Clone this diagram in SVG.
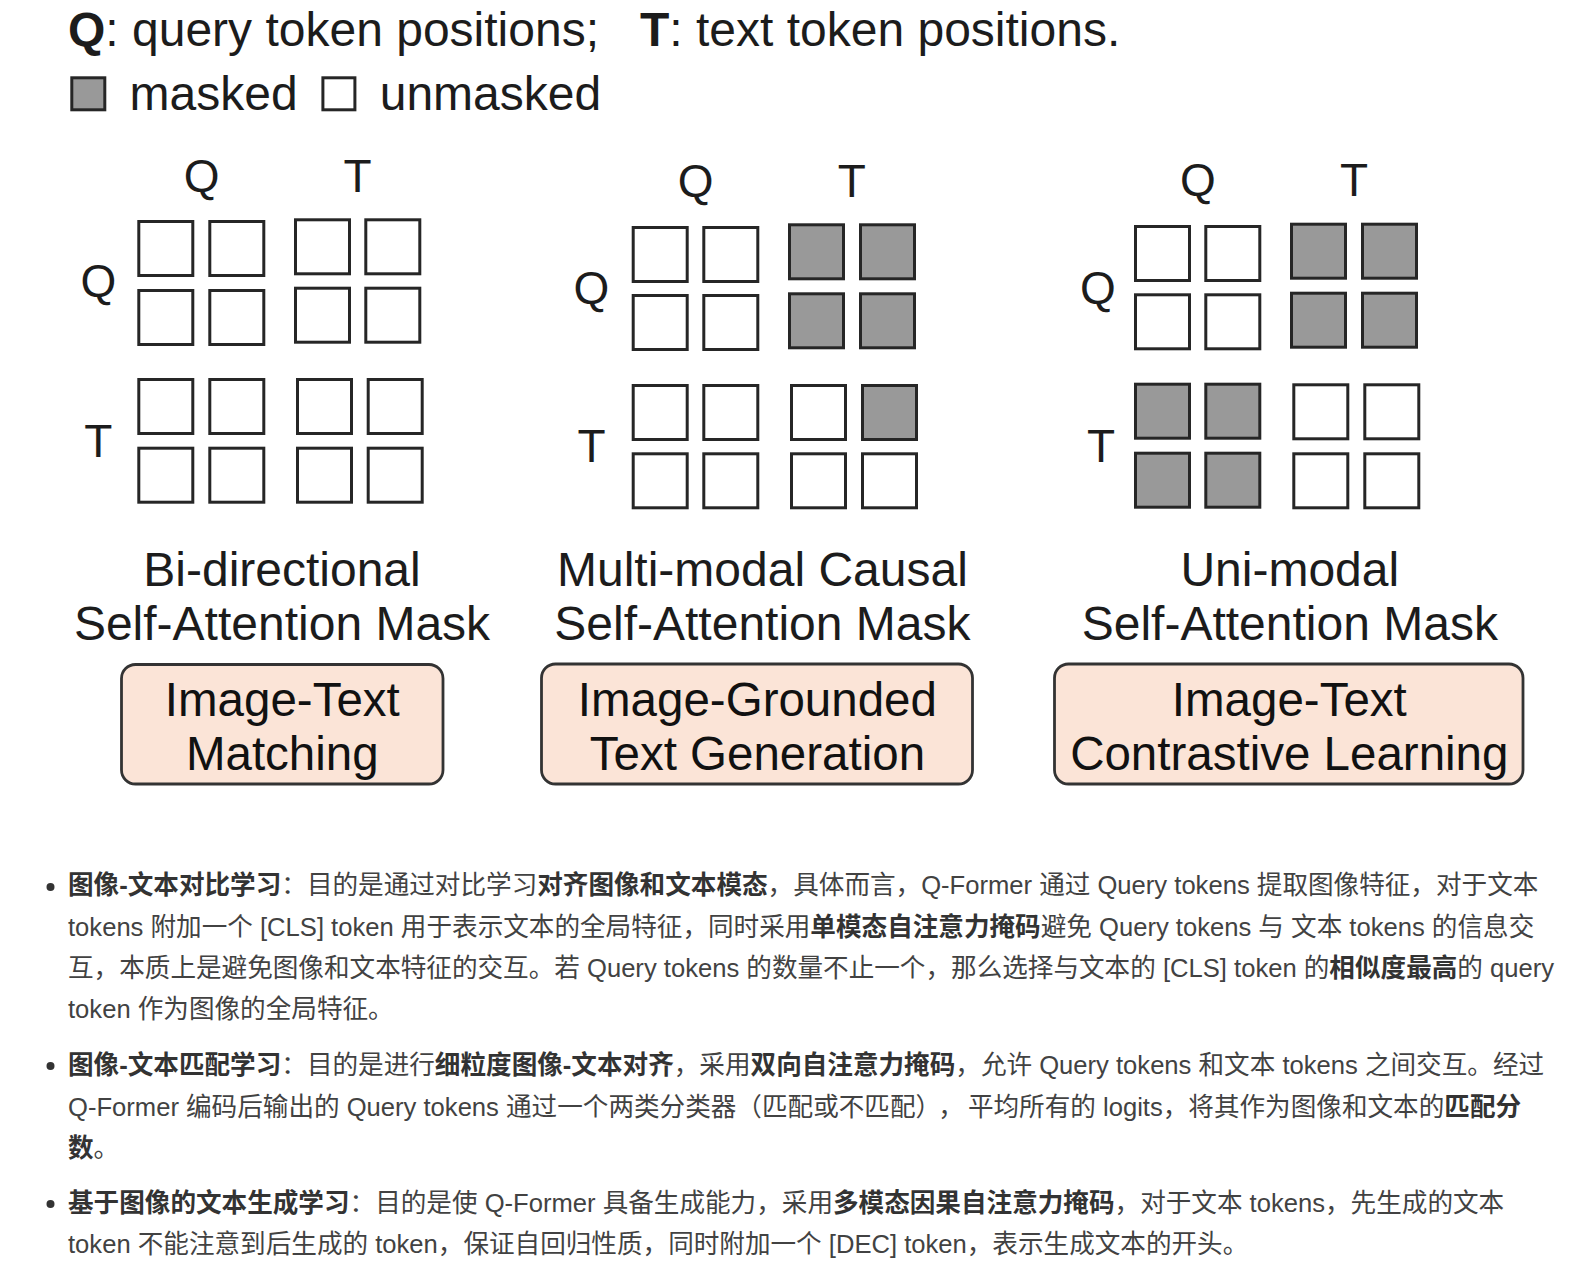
<svg xmlns="http://www.w3.org/2000/svg" width="1575" height="1278" viewBox="0 0 1575 1278">
<style>
.h{font-family:"Liberation Sans",Arial,sans-serif;font-size:48px;fill:#1c1c1c}
.bold{font-weight:bold}
.lbl{font-family:"Liberation Sans",Arial,sans-serif;font-size:46px;fill:#1c1c1c;text-anchor:middle}
.ttl{font-family:"Liberation Sans",Arial,sans-serif;font-size:48px;fill:#1c1c1c;text-anchor:middle}
.bt{font-family:"Liberation Sans",Arial,sans-serif;font-size:47.5px;fill:#111;text-anchor:middle}
.c{fill:#fff;stroke:#262626;stroke-width:3}
.m{fill:#999;stroke:#262626;stroke-width:3}
.box{fill:#fbe4d7;stroke:#333;stroke-width:2.8}
.p{font-family:"Liberation Sans","Noto Sans CJK SC",sans-serif;font-size:25.6px;fill:#424242}
.pb{font-weight:bold;fill:#333}
.dot{fill:#333}
</style>
<rect x="0" y="0" width="1575" height="1278" fill="#fff"/>

<g id="legend">
<text class="h" x="68" y="46"><tspan class="bold">Q</tspan>: query token positions;</text>
<text class="h" x="640" y="46"><tspan class="bold">T</tspan>: text token positions.</text>
<rect class="m" x="71.8" y="77.8" width="33" height="32"/>
<text class="h" x="129.6" y="109.5">masked</text>
<rect class="c" x="322.9" y="77.8" width="32" height="32"/>
<text class="h" x="379.7" y="109.5">unmasked</text>
</g>

<g id="panel-bidirectional">
<text class="lbl" x="201.7" y="192">Q</text>
<text class="lbl" x="357.5" y="192">T</text>
<text class="lbl" x="98.3" y="297">Q</text>
<text class="lbl" x="98.3" y="457">T</text>
<rect class="c" x="138.8" y="221.5" width="54" height="54"/>
<rect class="c" x="209.8" y="221.5" width="54" height="54"/>
<rect class="c" x="138.8" y="290.5" width="54" height="54"/>
<rect class="c" x="209.8" y="290.5" width="54" height="54"/>
<rect class="c" x="295.5" y="219.8" width="54" height="54"/>
<rect class="c" x="365.8" y="219.8" width="54" height="54"/>
<rect class="c" x="295.5" y="288.2" width="54" height="54"/>
<rect class="c" x="365.8" y="288.2" width="54" height="54"/>
<rect class="c" x="138.8" y="379.5" width="54" height="54"/>
<rect class="c" x="209.8" y="379.5" width="54" height="54"/>
<rect class="c" x="138.8" y="448.2" width="54" height="54"/>
<rect class="c" x="209.8" y="448.2" width="54" height="54"/>
<rect class="c" x="297.5" y="379.5" width="54" height="54"/>
<rect class="c" x="368.2" y="379.5" width="54" height="54"/>
<rect class="c" x="297.5" y="448.2" width="54" height="54"/>
<rect class="c" x="368.2" y="448.2" width="54" height="54"/>
<text class="ttl" x="282" y="586">Bi-directional</text>
<text class="ttl" x="282" y="640">Self-Attention Mask</text>
</g>

<g id="panel-causal">
<text class="lbl" x="695.7" y="197">Q</text>
<text class="lbl" x="851.7" y="197">T</text>
<text class="lbl" x="591.5" y="304">Q</text>
<text class="lbl" x="591.5" y="462">T</text>
<rect class="c" x="633.2" y="227.5" width="54" height="54"/>
<rect class="c" x="703.8" y="227.5" width="54" height="54"/>
<rect class="c" x="633.2" y="295.5" width="54" height="54"/>
<rect class="c" x="703.8" y="295.5" width="54" height="54"/>
<rect class="m" x="789.5" y="224.8" width="54" height="54"/>
<rect class="m" x="860.5" y="224.8" width="54" height="54"/>
<rect class="m" x="789.5" y="293.8" width="54" height="54"/>
<rect class="m" x="860.5" y="293.8" width="54" height="54"/>
<rect class="c" x="633.2" y="385.5" width="54" height="54"/>
<rect class="c" x="703.8" y="385.5" width="54" height="54"/>
<rect class="c" x="633.2" y="453.8" width="54" height="54"/>
<rect class="c" x="703.8" y="453.8" width="54" height="54"/>
<rect class="c" x="791.5" y="385.5" width="54" height="54"/>
<rect class="m" x="862.5" y="385.5" width="54" height="54"/>
<rect class="c" x="791.5" y="453.8" width="54" height="54"/>
<rect class="c" x="862.5" y="453.8" width="54" height="54"/>
<text class="ttl" x="762.4" y="586">Multi-modal Causal</text>
<text class="ttl" x="762.4" y="640">Self-Attention Mask</text>
</g>

<g id="panel-unimodal">
<text class="lbl" x="1198" y="196">Q</text>
<text class="lbl" x="1354" y="196">T</text>
<text class="lbl" x="1098" y="304">Q</text>
<text class="lbl" x="1101" y="462">T</text>
<rect class="c" x="1135.5" y="226.5" width="54" height="54"/>
<rect class="c" x="1205.8" y="226.5" width="54" height="54"/>
<rect class="c" x="1135.5" y="294.8" width="54" height="54"/>
<rect class="c" x="1205.8" y="294.8" width="54" height="54"/>
<rect class="m" x="1291.5" y="224.2" width="54" height="54"/>
<rect class="m" x="1362.5" y="224.2" width="54" height="54"/>
<rect class="m" x="1291.5" y="293.2" width="54" height="54"/>
<rect class="m" x="1362.5" y="293.2" width="54" height="54"/>
<rect class="m" x="1135.5" y="384.2" width="54" height="54"/>
<rect class="m" x="1205.8" y="384.2" width="54" height="54"/>
<rect class="m" x="1135.5" y="453.2" width="54" height="54"/>
<rect class="m" x="1205.8" y="453.2" width="54" height="54"/>
<rect class="c" x="1293.8" y="384.8" width="54" height="54"/>
<rect class="c" x="1364.8" y="384.8" width="54" height="54"/>
<rect class="c" x="1293.8" y="453.8" width="54" height="54"/>
<rect class="c" x="1364.8" y="453.8" width="54" height="54"/>
<text class="ttl" x="1289.8" y="586">Uni-modal</text>
<text class="ttl" x="1289.8" y="640">Self-Attention Mask</text>
</g>

<g id="box-itm">
<rect class="box" x="121.5" y="664.5" width="321.5" height="119.5" rx="14"/>
<text class="bt" x="282.3" y="716">Image-Text</text>
<text class="bt" x="282.3" y="770">Matching</text>
</g>
<g id="box-itg">
<rect class="box" x="541.5" y="664" width="431" height="120" rx="14"/>
<text class="bt" x="757.4" y="716">Image-Grounded</text>
<text class="bt" x="757.4" y="770">Text Generation</text>
</g>
<g id="box-itc">
<rect class="box" x="1054.5" y="664" width="468.5" height="120" rx="14"/>
<text class="bt" x="1289.3" y="716">Image-Text</text>
<text class="bt" x="1289.3" y="770">Contrastive Learning</text>
</g>

<g id="connectors"></g>

<g id="notes">
<circle class="dot" cx="50.5" cy="887" r="4"/>
<text class="p" x="68" y="894"><tspan class="pb">图像-文本对比学习</tspan>：目的是通过对比学习<tspan class="pb">对齐图像和文本模态</tspan>，具体而言，Q-Former 通过 Query tokens 提取图像特征，对于文本</text>
<text class="p" x="68" y="936">tokens 附加一个 [CLS] token 用于表示文本的全局特征，同时采用<tspan class="pb">单模态自注意力掩码</tspan>避免 Query tokens 与 文本 tokens 的信息交</text>
<text class="p" x="68" y="977">互，本质上是避免图像和文本特征的交互。若 Query tokens 的数量不止一个，那么选择与文本的 [CLS] token 的<tspan class="pb">相似度最高</tspan>的 query</text>
<text class="p" x="68" y="1018">token 作为图像的全局特征。</text>

<circle class="dot" cx="50.5" cy="1066" r="4"/>
<text class="p" x="68" y="1074"><tspan class="pb">图像-文本匹配学习</tspan>：目的是进行<tspan class="pb">细粒度图像-文本对齐</tspan>，采用<tspan class="pb">双向自注意力掩码</tspan>，允许 Query tokens 和文本 tokens 之间交互。经过</text>
<text class="p" x="68" y="1116">Q-Former 编码后输出的 Query tokens 通过一个两类分类器（匹配或不匹配）<tspan dx="10">，</tspan><tspan dx="4">平均所有的 logits，将其作为图像和文本的</tspan><tspan class="pb">匹配分</tspan></text>
<text class="p" x="68" y="1157"><tspan class="pb">数</tspan>。</text>

<circle class="dot" cx="50.5" cy="1204" r="4"/>
<text class="p" x="68" y="1212"><tspan class="pb">基于图像的文本生成学习</tspan>：目的是使 Q-Former 具备生成能力，采用<tspan class="pb">多模态因果自注意力掩码</tspan>，对于文本 tokens，先生成的文本</text>
<text class="p" x="68" y="1253">token 不能注意到后生成的 token，保证自回归性质，同时附加一个 [DEC] token，表示生成文本的开头。</text>
</g>
</svg>
